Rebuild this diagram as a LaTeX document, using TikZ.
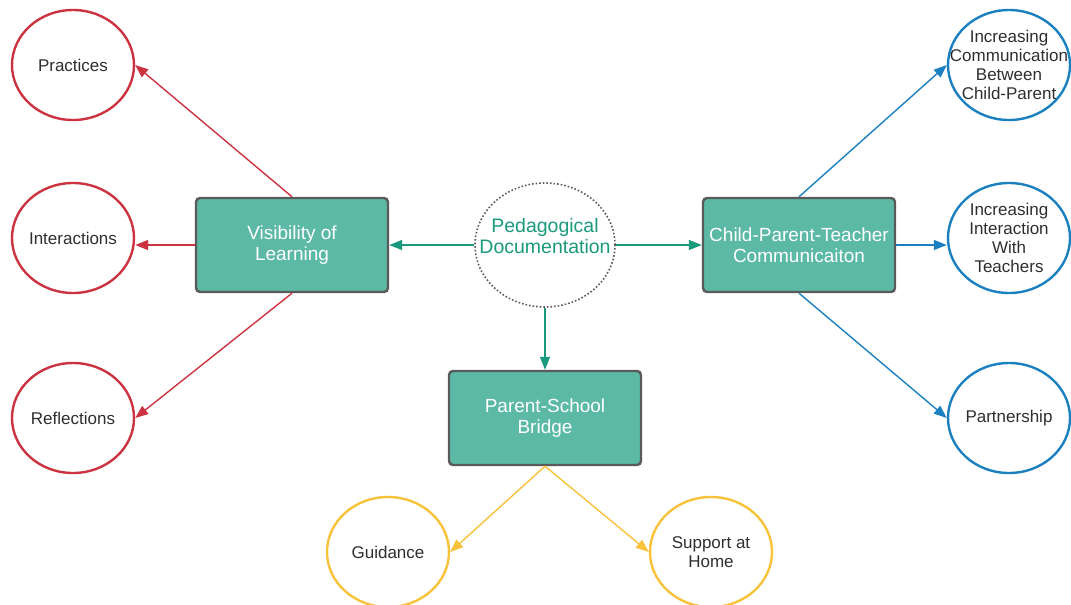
\documentclass[tikz,border=0pt]{standalone}
\usepackage{fontspec}
\setmainfont{Liberation Sans}
\usetikzlibrary{arrows.meta,shapes.geometric}
\definecolor{cred}{HTML}{CC3340}
\definecolor{cblue}{HTML}{1B80C0}
\definecolor{cyel}{HTML}{F8C23A}
\definecolor{tealfill}{HTML}{5BB9A6}
\definecolor{tealline}{HTML}{1A9A7D}
\definecolor{boxedge}{HTML}{5A5A5A}
\definecolor{txt}{HTML}{2E2E2E}
\begin{document}
\begin{tikzpicture}[x=1pt,y=-1pt,
  leaf/.style={ellipse,draw,line width=2.4pt,minimum width=122pt,minimum height=110pt,inner xsep=-20pt,inner ysep=-20pt,align=center,text=txt,font=\fontsize{17}{19}\selectfont},
  redleaf/.style={leaf,draw=cred},
  blueleaf/.style={leaf,draw=cblue},
  yelleaf/.style={leaf,draw=cyel},
  hub/.style={rectangle,rounded corners=4pt,draw=boxedge,line width=2.4pt,fill=tealfill,minimum width=192pt,minimum height=94pt,align=center,text=white,font=\fontsize{19}{21}\selectfont},
  conn/.style={line width=1.4pt,-{Triangle[length=13pt,width=10pt]}},
]
\useasboundingbox (0,0) rectangle (1071,605);
% leaves
\node[redleaf] (prac) at (73,65) {Practices};
\node[redleaf] (inter) at (73,238) {Interactions};
\node[redleaf] (refl) at (73,418) {Reflections};
\node[blueleaf] (inc1) at (1009,65) {Increasing\\Communication\\Between\\Child-Parent};
\node[blueleaf] (inc2) at (1009,238) {Increasing\\Interaction\\With\\Teachers};
\node[blueleaf] (part) at (1009,418) {Partnership};
\node[yelleaf] (guid) at (388,552) {Guidance};
\node[yelleaf] (supp) at (711,552) {Support at\\Home};
% hubs
\node[hub] (vis) at (292,245) {Visibility of\\Learning};
\node[hub] (cpt) at (799,245) {Child-Parent-Teacher\\Communicaiton};
\node[hub] (psb) at (545,418) {Parent-School\\Bridge};
% center
\node[ellipse,draw=boxedge,line width=1.6pt,dotted,minimum width=140pt,minimum height=124pt,inner sep=0pt] (ped) at (545,245) {};
\node[align=center,text=tealline,font=\fontsize{19.5}{21}\selectfont,inner sep=0pt] (pedtxt) at (545,236) {Pedagogical\\Documentation};
% connectors
\draw[conn,cred] (vis.north) -- (prac.east);
\draw[conn,cred] (vis.west) -- (inter.east |- vis.west);
\draw[conn,cred] (vis.south) -- (refl.east);
\draw[conn,tealline] (ped.west) -- (vis.east);
\draw[conn,tealline] (ped.east) -- (cpt.west);
\draw[conn,tealline] (ped.south) -- (psb.north);
\draw[conn,cblue] (cpt.north) -- (inc1.west);
\draw[conn,cblue] (cpt.east) -- (inc2.west |- cpt.east);
\draw[conn,cblue] (cpt.south) -- (part.west);
\draw[conn,cyel] (psb.south) -- (guid.east);
\draw[conn,cyel] (psb.south) -- (supp.west);
\end{tikzpicture}
\end{document}
